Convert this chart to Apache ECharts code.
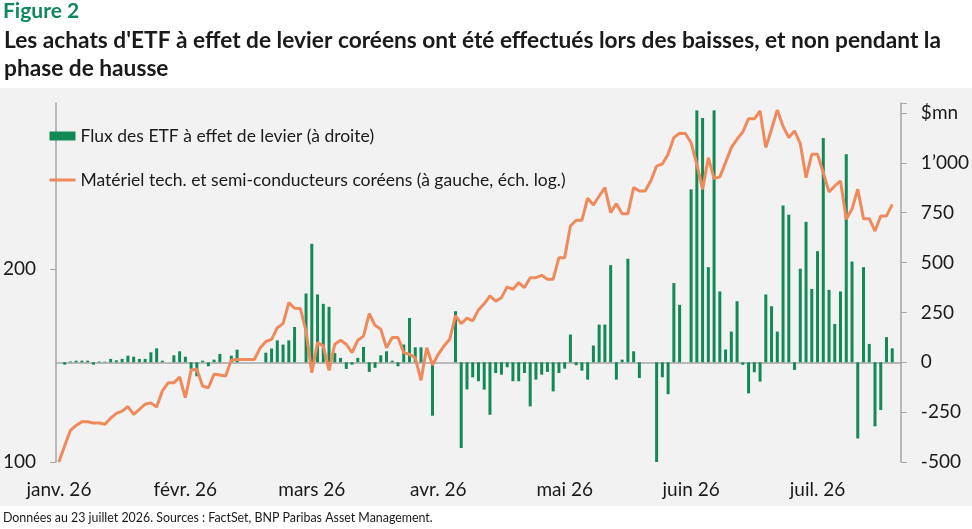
<!DOCTYPE html>
<html>
<head>
<meta charset="utf-8">
<script src="https://cdn.jsdelivr.net/npm/echarts@6/dist/echarts.min.js"></script>
<style>
  html, body { margin: 0; padding: 0; background: #fff; }
  #chart { width: 972px; height: 529px; }
</style>
</head>
<body>
<div id="chart"></div>
<script>
// valeurs (jours ouvrés depuis le 2 janvier 2026)
const semiIndex = [
  100, 106, 112, 114, 115.5, 115.5, 115, 115, 114.5, 117,
  119, 120, 122, 118.6, 120.8, 123, 123.6, 121.8, 129, 132.8,
  132.8, 135.6, 125.9, 139, 139.4, 131.3, 130.5, 137, 136.6, 136.1,
  144.1, 144.4, 144.4, 144.4, 144.4, 150.4, 154, 155.2, 161.8, 164.2,
  177, 173.5, 173.4, 159.9, 137.7, 153.4, 151.6, 138.9, 152.5, 154.7,
  152.5, 148, 154.7, 157, 170.2, 163.2, 160.9, 150.6, 156.2, 156.2,
  148, 147.1, 145.3, 134, 150.6, 141.6, 147.1, 151.6, 155.2, 169,
  164.2, 167.5, 165.8, 172.5, 176.3, 181.3, 178, 180.2, 187.3, 185.7,
  190.1, 186.8, 193.6, 193.6, 195.2, 192.5, 192.5, 208, 208, 233,
  237.8, 237.8, 257.4, 251.2, 259.4, 267.3, 244.4, 252.4, 243.5, 243.5,
  267.3, 264.1, 264.1, 274, 288.8, 291, 301.2, 319.8, 324.9, 324.5,
  314, 290.6, 265.8, 297.6, 276, 277.8, 292.4, 308.5, 318, 326.3,
  342.2, 342, 351.8, 308.5, 329.5, 353, 333, 319.8, 327.5, 313,
  277, 301.2, 301.2, 282, 263.2, 268.9, 273.8, 238.7, 247.5, 265.8,
  239.2, 239.2, 228.8, 241.5, 241.5, 251.8
];

const etfFlows = [
  0, -12, 4, 8, 8, 8, -12, 4, 3, 17,
  10, 17, 33, 28, 17, 17, 50, 70, 8, 0,
  35, 55, 28, -33, -70, 8, -20, 13, 42, 0,
  33, 63, 0, 0, 0, 0, 48, 69, 110, 89,
  110, 177, 0, 345, 594, 340, 293, 278, 47, 22,
  -33, -12, 22, 77, -48, -28, 35, 55, 8, -20,
  89, 222, 75, 75, 0, -268, 0, 0, 0, 256,
  -430, -136, -75, -95, -137, -263, -54, -62, -25, -95,
  -95, -54, -221, -87, -62, -48, -146, -54, -32, 139,
  -15, -42, -87, 84, 189, 189, 487, -87, 13, 519,
  55, -79, 0, 0, -503, -75, -160, 397, 288, 0,
  867, 1263, 1225, 477, 1263, 355, 64, 154, 306, -13,
  -156, -50, -97, 340, 281, 154, 786, 740, -38, 469,
  704, 368, 557, 1124, 363, 192, 355, 1043, 505, -382,
  477, 92, -321, -239, 126, 70
];

const monthNames = ['janv.', 'févr.', 'mars', 'avr.', 'mai', 'juin', 'juil.', 'août', 'sept.', 'oct.', 'nov.', 'déc.'];

// 147 jours ouvrés sur l'axe
const categories = [];
for (let d = new Date(Date.UTC(2026, 0, 2)); categories.length < 147; d.setUTCDate(d.getUTCDate() + 1)) {
  const wd = d.getUTCDay();
  if (wd !== 0 && wd !== 6) categories.push(d.toISOString().slice(0, 10));
}

const tickIdx = {};
for (let k = 0; k < 28; k++) tickIdx[Math.round(k * 5.466)] = true;

const FONT = 'Lato';
const GREEN = '#138a56';
const ORANGE = '#ef8a5c';
const AXIS = '#a6a6a6';
const NAME_BAR = 'Flux des ETF à effet de levier (à droite)';
const NAME_LINE = 'Matériel tech. et semi-conducteurs coréens (à gauche, éch. log.)';

var myChart = echarts.init(document.getElementById('chart'));

const option = {
  animation: false,
  textStyle: { fontFamily: FONT },
  graphic: [
    { type: 'rect', z: -10, silent: true, shape: { x: 0, y: 88, width: 972, height: 418 }, style: { fill: '#f2f2f2' } },
    { type: 'text', left: 3, top: 1, style: { text: 'Figure 2', fill: '#10895a', font: 'bold 21px Lato' } },
    { type: 'text', left: 4, top: 29, style: { text: "Les achats d'ETF à effet de levier coréens ont été effectués lors des baisses, et non pendant la", fill: '#1a1a1a', font: 'bold 22.7px Lato' } },
    { type: 'text', left: 4, top: 57, style: { text: 'phase de hausse', fill: '#1a1a1a', font: 'bold 22.7px Lato' } },
    { type: 'text', left: 3, top: 512, style: { text: 'Données au 23 juillet 2026. Sources : FactSet, BNP Paribas Asset Management.', fill: '#1a1a1a', font: '12.4px Lato' } }
  ],
  legend: {
    orient: 'vertical',
    left: 43,
    top: 121,
    itemWidth: 26,
    itemHeight: 9,
    itemGap: 24,
    textStyle: { fontFamily: FONT, fontSize: 17.5, color: '#1a1a1a', lineHeight: 20 },
    data: [
      { name: NAME_BAR, icon: 'rect' },
      { name: NAME_LINE, itemStyle: { opacity: 0 }, lineStyle: { color: ORANGE, width: 3, opacity: 1 } }
    ]
  },
  grid: { left: 56, right: 71, top: 103, bottom: 67 },
  xAxis: [
    {
      type: 'category',
      data: categories,
      boundaryGap: true,
      axisLine: { onZero: true, onZeroAxisIndex: 1, lineStyle: { color: AXIS, width: 1.5 } },
      axisTick: { interval: function (i) { return !!tickIdx[i]; }, length: 5, lineStyle: { color: AXIS } },
      axisLabel: { show: false },
      splitLine: { show: false }
    },
    {
      type: 'category',
      data: categories,
      position: 'bottom',
      boundaryGap: true,
      axisLine: { show: false, onZero: false },
      axisTick: { show: false },
      axisLabel: {
        interval: function (i) { return i % 22 === 0; },
        margin: 18,
        fontSize: 19,
        color: '#1a1a1a',
        fontFamily: FONT,
        formatter: function (v) { return monthNames[Number(v.slice(5, 7)) - 1] + ' 26'; }
      },
      splitLine: { show: false }
    }
  ],
  yAxis: [
    {
      type: 'log',
      logBase: 2,
      min: 100,
      max: 362,
      interval: 1,
      position: 'left',
      axisLine: { show: true, lineStyle: { color: AXIS, width: 1.5 } },
      axisTick: { show: true, length: 6, lineStyle: { color: AXIS } },
      axisLabel: {
        fontSize: 19, color: '#1a1a1a', fontFamily: FONT, margin: 20,
        showMaxLabel: false,
        formatter: function (v) {
          const n = Number(v);
          return n < 300 ? String(Math.round(n / 100) * 100) : '';
        }
      },
      splitLine: { show: false }
    },
    {
      type: 'value',
      min: -500,
      max: 1300,
      interval: 250,
      position: 'right',
      axisLine: { show: true, lineStyle: { color: AXIS, width: 1.5 } },
      axisTick: { show: true, length: 6, lineStyle: { color: AXIS } },
      axisLabel: {
        fontSize: 19, color: '#1a1a1a', fontFamily: FONT, margin: 20,
        formatter: function (v) {
          if (v === 1250) return '$mn';
          if (v > 1250) return '';
          if (Math.abs(v) >= 1000) return (v < 0 ? '-' : '') + Math.floor(Math.abs(v) / 1000) + '’' + String(Math.abs(v) % 1000).padStart(3, '0');
          return String(v);
        }
      },
      splitLine: { show: false }
    }
  ],
  series: [
    {
      name: NAME_BAR,
      type: 'bar',
      xAxisIndex: 0,
      yAxisIndex: 1,
      data: etfFlows,
      barWidth: 3,
      itemStyle: { color: GREEN }
    },
    {
      name: NAME_LINE,
      type: 'line',
      xAxisIndex: 0,
      yAxisIndex: 0,
      data: semiIndex,
      symbol: 'none',
      lineStyle: { color: ORANGE, width: 3 },
      itemStyle: { color: ORANGE },
      z: 3
    }
  ]
};

myChart.setOption(option);
</script>
</body>
</html>
